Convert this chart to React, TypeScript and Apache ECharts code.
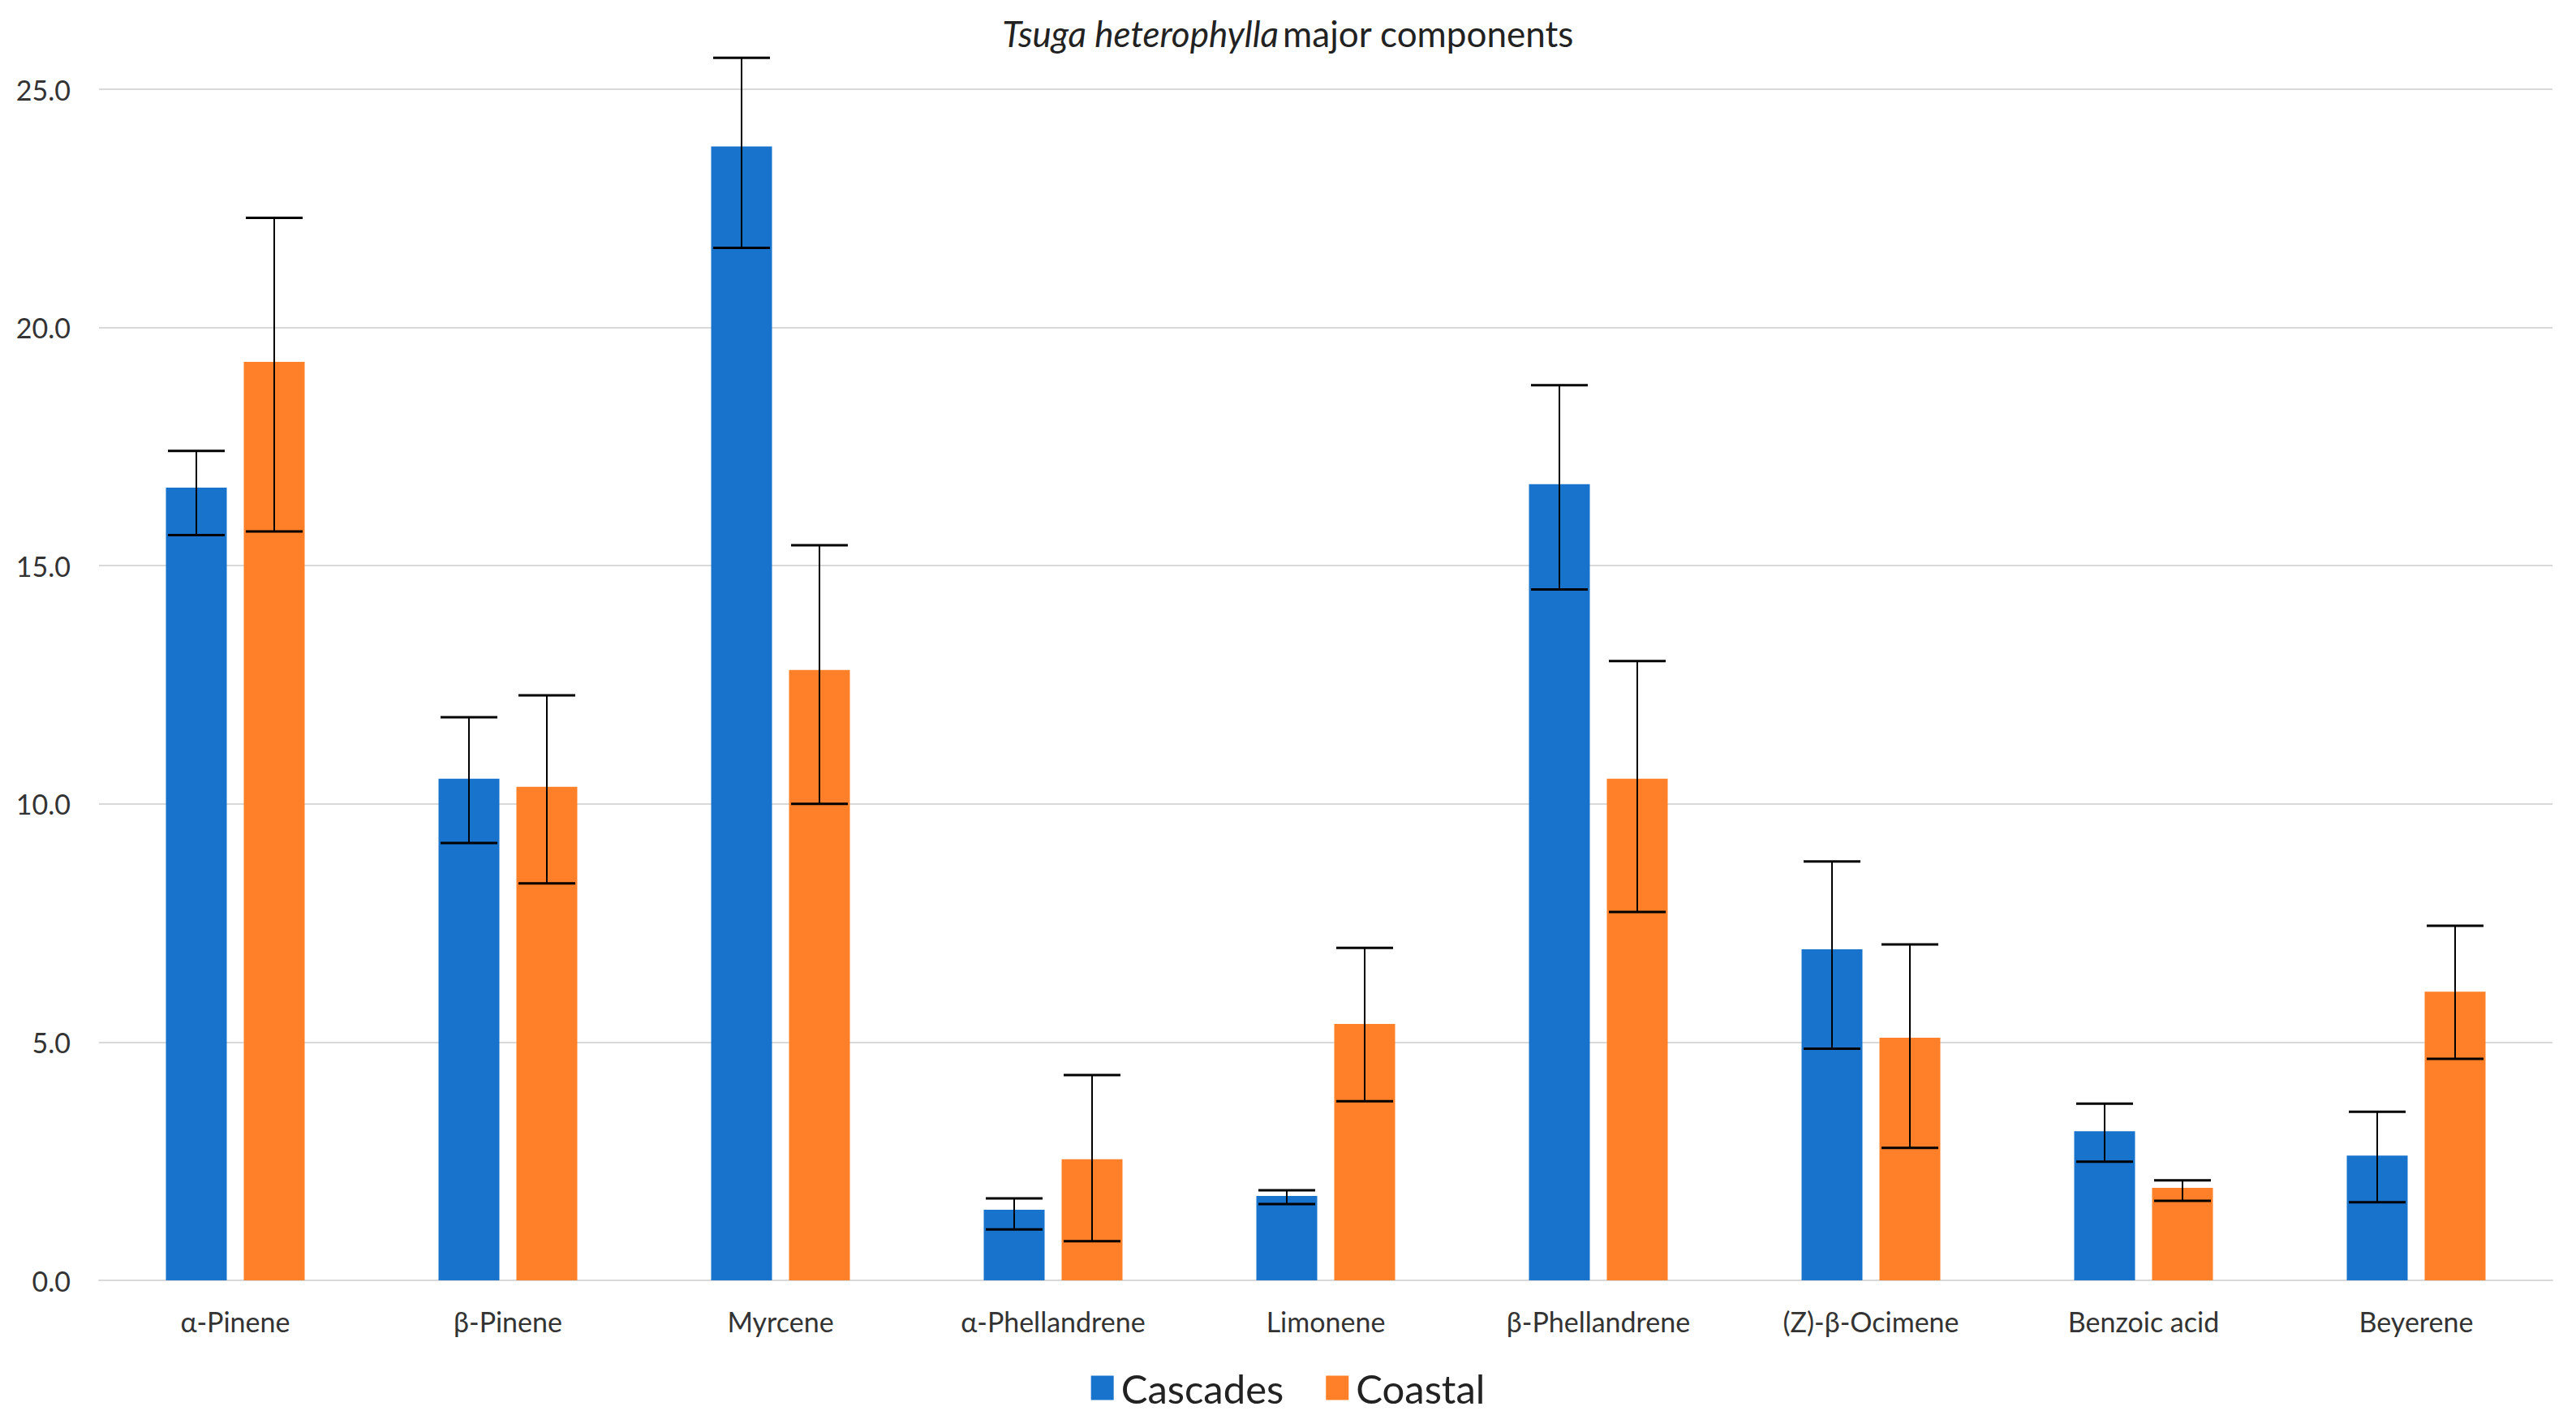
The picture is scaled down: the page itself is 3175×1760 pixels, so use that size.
import React, { useEffect, useRef } from "react";
import * as echarts from "echarts";

const categories = [
  "α-Pinene",
  "β-Pinene",
  "Myrcene",
  "α-Phellandrene",
  "Limonene",
  "β-Phellandrene",
  "(Z)-β-Ocimene",
  "Benzoic acid",
  "Beyerene",
];

const cascadesMean = [16.64, 10.53, 23.8, 1.48, 1.77, 16.71, 6.95, 3.13, 2.62];
const cascadesLow = [15.64, 9.18, 21.67, 1.07, 1.6, 14.5, 4.86, 2.49, 1.64];
const cascadesHigh = [17.41, 11.82, 25.66, 1.72, 1.89, 18.79, 8.79, 3.71, 3.54];

const coastalMean = [19.28, 10.36, 12.81, 2.54, 5.38, 10.53, 5.09, 1.94, 6.06];
const coastalLow = [15.72, 8.33, 10.0, 0.82, 3.76, 7.73, 2.78, 1.67, 4.65];
const coastalHigh = [22.3, 12.28, 15.43, 4.31, 6.98, 13.0, 7.05, 2.1, 7.44];

const yTicks = { min: 0, max: 25, interval: 5 };

const FONT = "Lato, 'Open Sans', sans-serif";
const BAR_W = 75;
const BAR_GAP_PX = 21;

function errorSeries(name: string, low: number[], high: number[], offset: number) {
  return {
    name,
    type: "custom",
    clip: false,
    z: 10,
    data: categories.map((_, i) => [i, low[i], high[i]]),
    renderItem: (params: any, api: any) => {
      const idx = api.value(0);
      const lo = api.coord([idx, api.value(1)]);
      const hi = api.coord([idx, api.value(2)]);
      const x = lo[0] + offset;
      const cap = 35;
      return {
        type: "group",
        children: [
          {
            type: "line",
            shape: { x1: x, y1: hi[1], x2: x, y2: lo[1] },
            style: { stroke: "#000", lineWidth: 2 },
          },
          {
            type: "line",
            shape: { x1: x - cap, y1: hi[1], x2: x + cap, y2: hi[1] },
            style: { stroke: "#000", lineWidth: 3 },
          },
          {
            type: "line",
            shape: { x1: x - cap, y1: lo[1], x2: x + cap, y2: lo[1] },
            style: { stroke: "#000", lineWidth: 3 },
          },
        ],
      };
    },
  };
}

export default function App() {
  const ref = useRef<HTMLDivElement>(null);
  useEffect(() => {
    document.body.style.margin = "0";
    const chart = echarts.init(ref.current!, null, { renderer: "svg" });
    const off = (BAR_W + BAR_GAP_PX) / 2;
    chart.setOption({
      animation: false,
      backgroundColor: "#fff",
      textStyle: { fontFamily: FONT },
      title: {
        text: "{i|Tsuga heterophylla} {n|major components}",
        left: "center",
        top: 14,
        textStyle: {
          fontWeight: "normal",
          rich: {
            i: { fontStyle: "italic", fontWeight: "normal", fontSize: 44, color: "#222", fontFamily: FONT },
            n: { fontWeight: "normal", fontSize: 44, color: "#222", fontFamily: FONT },
          },
        },
      },
      legend: {
        data: ["Cascades", "Coastal"],
        bottom: 20,
        left: "center",
        itemWidth: 28,
        itemHeight: 30,
        itemGap: 52,
        icon: "rect",
        textStyle: { fontSize: 49, color: "#222", fontFamily: FONT, padding: [0, 0, 0, 4] },
      },
      grid: { left: 122, right: 29, top: 110, bottom: 182, containLabel: false },
      xAxis: {
        type: "category",
        data: categories,
        axisLine: { show: true, lineStyle: { color: "#d9d9d9", width: 2 } },
        axisTick: { show: false },
        axisLabel: { fontSize: 34, color: "#333", margin: 33, fontFamily: FONT },
      },
      yAxis: {
        type: "value",
        min: yTicks.min,
        max: yTicks.max,
        interval: yTicks.interval,
        axisLine: { show: false },
        axisTick: { show: false },
        axisLabel: {
          fontSize: 34,
          color: "#333",
          margin: 35,
          fontFamily: FONT,
          formatter: (v: number) => v.toFixed(1),
        },
        splitLine: { lineStyle: { color: "#d9d9d9", width: 2 } },
      },
      series: [
        {
          name: "Cascades",
          type: "bar",
          data: cascadesMean,
          barWidth: BAR_W,
          barGap: `${(BAR_GAP_PX / BAR_W) * 100}%`,
          itemStyle: { color: "#1873CC" },
        },
        {
          name: "Coastal",
          type: "bar",
          data: coastalMean,
          barWidth: BAR_W,
          barGap: `${(BAR_GAP_PX / BAR_W) * 100}%`,
          itemStyle: { color: "#FF8028" },
        },
        errorSeries("Cascades err", cascadesLow, cascadesHigh, -off),
        errorSeries("Coastal err", coastalLow, coastalHigh, off),
      ],
    });
    return () => chart.dispose();
  }, []);
  return <div ref={ref} style={{ width: 3175, height: 1760 }} />;
}
